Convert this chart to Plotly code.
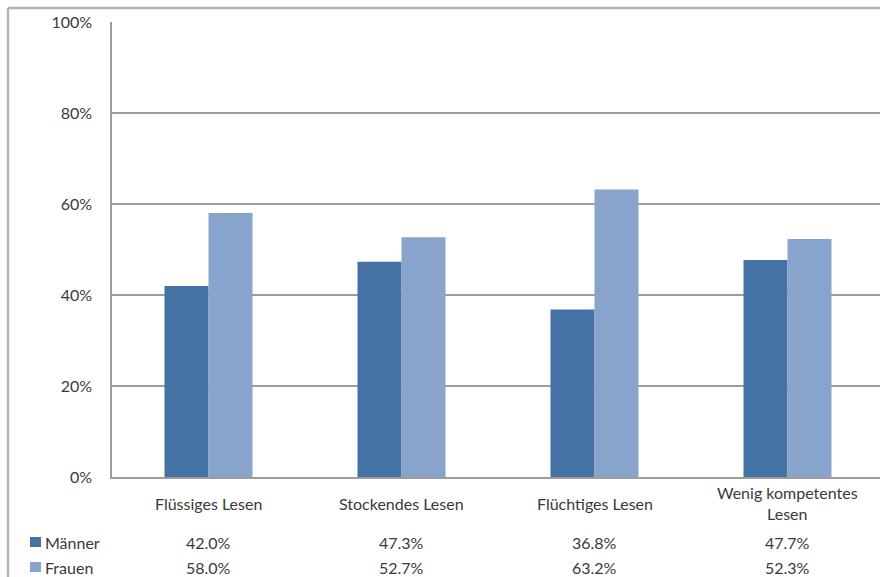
import plotly.graph_objects as go

# Lesertypen nach Geschlecht
kategorien = ["Flüssiges Lesen", "Stockendes Lesen", "Flüchtiges Lesen", "Wenig kompetentes<br>Lesen"]
maenner = [42.0, 47.3, 36.8, 47.7]
frauen = [58.0, 52.7, 63.2, 52.3]
y_ticks = [0, 20, 40, 60, 80, 100]

C_M = "#4472A4"
C_F = "#88A3CC"
GRID = "#9c9c9c"
FRAME = "#b4b4b4"
TXT = "#3a3a3a"
FONT = "Lato, Open Sans, Liberation Sans, sans-serif"
FS = 16

W, H = 880, 577
PL, PT, PB = 112, 22, 477


def fx(px):
    return (px - PL) / (W - PL)


def fy(py):
    return (PB - py) / (PB - PT)


x = list(range(len(kategorien)))

fig = go.Figure()
fig.add_bar(x=x, y=maenner, name="Männer", marker=dict(color=C_M, line=dict(width=0)))
fig.add_bar(x=x, y=frauen, name="Frauen", marker=dict(color=C_F, line=dict(width=0)))

# category width in pixels, used to place the table cells under each group
unit = 193.0
x_left = -0.5
annotations = []
shapes = []

ROW_M, ROW_F = 542, 567

for i, kat in enumerate(kategorien):
    cx = fx(PL + (i - x_left) * unit)
    annotations.append(dict(
        x=cx, y=fy(503), xref="paper", yref="paper", text=kat, showarrow=False,
        xanchor="center", yanchor="middle", align="center",
        font=dict(size=FS, color=TXT, family=FONT),
    ))
    annotations.append(dict(
        x=cx, y=fy(ROW_M), xref="paper", yref="paper", text=f"{maenner[i]:.1f}%", showarrow=False,
        xanchor="center", yanchor="middle", font=dict(size=FS, color=TXT, family=FONT),
    ))
    annotations.append(dict(
        x=cx, y=fy(ROW_F), xref="paper", yref="paper", text=f"{frauen[i]:.1f}%", showarrow=False,
        xanchor="center", yanchor="middle", font=dict(size=FS, color=TXT, family=FONT),
    ))

# legend keys of the data table
for name, color, py in [("Männer", C_M, ROW_M), ("Frauen", C_F, ROW_F)]:
    shapes.append(dict(type="rect", xref="paper", yref="paper",
                       x0=fx(30), x1=fx(41), y0=fy(py - 5), y1=fy(py + 5),
                       fillcolor=color, line=dict(width=0)))
    annotations.append(dict(
        x=fx(43), y=fy(py), xref="paper", yref="paper", text=name, showarrow=False,
        xanchor="left", yanchor="middle", font=dict(size=FS, color=TXT, family=FONT),
    ))

# outer chart frame
shapes.append(dict(type="line", xref="paper", yref="paper", x0=fx(8), x1=fx(W + 5),
                   y0=fy(8), y1=fy(8), line=dict(color=FRAME, width=2.5)))
shapes.append(dict(type="line", xref="paper", yref="paper", x0=fx(8), x1=fx(8),
                   y0=fy(8), y1=fy(H + 5), line=dict(color=FRAME, width=2.5)))

fig.update_layout(
    width=W, height=H,
    margin=dict(l=PL, r=0, t=PT, b=H - PB),
    paper_bgcolor="white", plot_bgcolor="white",
    barmode="group", bargap=0.544, bargroupgap=0,
    showlegend=False,
    font=dict(family=FONT, size=FS, color=TXT),
    xaxis=dict(range=[x_left, x_left + (W - PL) / unit], showticklabels=False,
               showgrid=False, zeroline=False, showline=True, linecolor=GRID, linewidth=1.5,
               fixedrange=True),
    yaxis=dict(range=[0, 100], tickvals=y_ticks, ticktext=[f"{v}%" for v in y_ticks],
               showgrid=True, gridcolor=GRID, gridwidth=1.5, zeroline=False,
               showline=True, linecolor=GRID, linewidth=1.5, ticks="",
               ticklabelstandoff=15, tickfont=dict(size=FS, color=TXT, family=FONT)),
    annotations=annotations, shapes=shapes,
)

fig.write_html("out.html")
